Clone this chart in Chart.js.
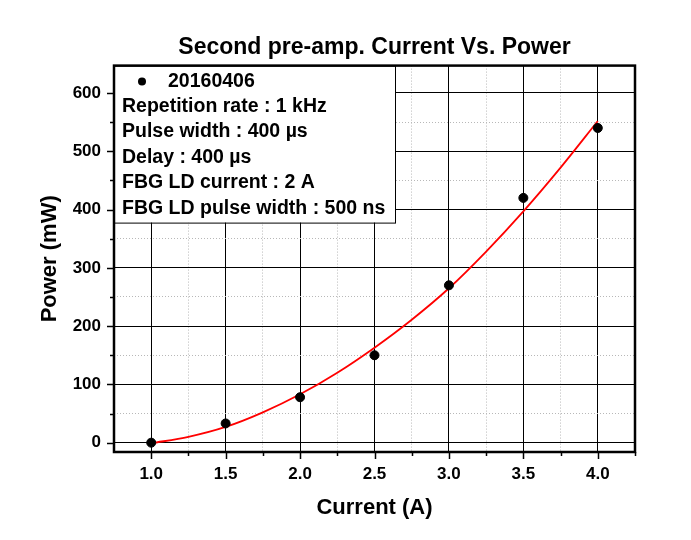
<!DOCTYPE html>
<html>
<head>
<meta charset="utf-8">
<script src="https://cdn.jsdelivr.net/npm/chart.js@4.4.1/dist/chart.umd.min.js"></script>
<style>
  html, body { margin: 0; padding: 0; background: #fff; }
  #wrap { width: 691px; height: 540px; }
</style>
</head>
<body>
<div id="wrap"><canvas id="c" width="691" height="540"></canvas></div>
<script>
// measured points (current A, power mW)
var currents = [1.0, 1.5, 2.0, 2.5, 3.0, 3.5, 4.0];
var powers = [0, 33, 78, 150, 270, 420, 540];

// red fit curve
var fitCurrents = [1.0, 1.25, 1.5, 1.75, 2.0, 2.25, 2.5, 2.75, 3.0, 3.25, 3.5, 3.75, 4.0];
var fitPowers = [-1, 10, 27, 52, 83, 120, 163, 211, 265, 328, 397, 472, 552];

var xTickValues = [1.0, 1.25, 1.5, 1.75, 2.0, 2.25, 2.5, 2.75, 3.0, 3.25, 3.5, 3.75, 4.0, 4.25];
var yTickValues = [0, 50, 100, 150, 200, 250, 300, 350, 400, 450, 500, 550, 600];

var seriesName = '20160406';
var infoLines = [
    'Repetition rate : 1 kHz',
    'Pulse width : 400 \u00b5s',
    'Delay : 400 \u00b5s',
    'FBG LD current : 2 A',
    'FBG LD pulse width : 500 ns'
];

var FONT = "'Liberation Sans', Arial, sans-serif";

function isMajorX(v) { return Math.abs(v * 2 - Math.round(v * 2)) < 1e-6; }
function isMajorY(v) { return Math.abs(v / 100 - Math.round(v / 100)) < 1e-6; }

// frame, outside tick marks and the info box
var decor = {
    id: 'decor',
    beforeDatasetsDraw: function (chart) {
        var ctx = chart.ctx, a = chart.chartArea;
        var x0 = a.left, y0 = a.top, w = 281, h = 157;
        ctx.save();
        ctx.fillStyle = '#fff';
        ctx.fillRect(x0, y0, w, h);
        ctx.strokeStyle = '#000';
        ctx.lineWidth = 1;
        ctx.strokeRect(x0 + 0.5, y0 + 0.5, w, h);
        ctx.fillStyle = '#000';
        ctx.beginPath();
        ctx.arc(x0 + 28, y0 + 16, 4, 0, Math.PI * 2);
        ctx.fill();
        ctx.font = 'bold 19.5px ' + FONT;
        ctx.textBaseline = 'middle';
        ctx.fillText(seriesName, x0 + 54, y0 + 16);
        infoLines.forEach(function (t, i) {
            ctx.fillText(t, x0 + 8, y0 + 41 + i * 25.5);
        });
        ctx.restore();
    },
    afterDraw: function (chart) {
        var ctx = chart.ctx, a = chart.chartArea;
        var xs = chart.scales.x, ys = chart.scales.y;
        ctx.save();
        ctx.strokeStyle = '#000';
        ctx.lineWidth = 1.5;
        xTickValues.forEach(function (v) {
            var px = Math.round(xs.getPixelForValue(v)) + 0.5;
            var len = isMajorX(v) ? 7 : 4;
            ctx.beginPath();
            ctx.moveTo(px, a.bottom);
            ctx.lineTo(px, a.bottom + len);
            ctx.stroke();
        });
        yTickValues.forEach(function (v) {
            var py = Math.round(ys.getPixelForValue(v)) + 0.5;
            var len = isMajorY(v) ? 7 : 4;
            ctx.beginPath();
            ctx.moveTo(a.left, py);
            ctx.lineTo(a.left - len, py);
            ctx.stroke();
        });
        ctx.lineWidth = 2.5;
        ctx.strokeRect(a.left, a.top, a.right - a.left, a.bottom - a.top);
        ctx.restore();
    }
};

var pointData = currents.map(function (x, i) { return { x: x, y: powers[i] }; });
var fitData = fitCurrents.map(function (x, i) { return { x: x, y: fitPowers[i] }; });

new Chart(document.getElementById('c'), {
    type: 'scatter',
    data: {
        datasets: [
            {
                label: seriesName,
                data: pointData,
                backgroundColor: '#000',
                borderColor: '#000',
                pointRadius: 4.5,
                pointHoverRadius: 4.5
            },
            {
                label: 'fit',
                data: fitData,
                showLine: true,
                borderColor: '#ff0000',
                borderWidth: 1.8,
                pointRadius: 0,
                cubicInterpolationMode: 'monotone'
            }
        ]
    },
    plugins: [decor],
    options: {
        responsive: false,
        animation: false,
        layout: { padding: { left: 0, right: 56, top: 0, bottom: 0 } },
        plugins: {
            legend: { display: false },
            tooltip: { enabled: false },
            title: {
                display: true,
                fullSize: false,
                text: 'Second pre-amp. Current Vs. Power',
                color: '#000',
                font: { family: FONT, size: 23, weight: 'bold' },
                padding: { top: 34, bottom: 4 }
            }
        },
        scales: {
            x: {
                type: 'linear',
                min: 0.75,
                max: 4.25,
                afterBuildTicks: function (s) {
                    s.ticks = xTickValues.map(function (v) { return { value: v }; });
                },
                afterFit: function (s) { s.height = 88; },
                grid: {
                    drawTicks: false,
                    lineWidth: 1,
                    color: function (c) { return c.tick && isMajorX(c.tick.value) ? '#000' : '#b8b8b8'; }
                },
                border: {
                    display: false,
                    dash: function (c) { return c.tick && isMajorX(c.tick.value) ? [] : [1, 2]; }
                },
                ticks: {
                    autoSkip: false,
                    maxRotation: 0,
                    padding: 12,
                    color: '#000',
                    font: { family: FONT, size: 17, weight: 'bold' },
                    callback: function (v) { return isMajorX(v) && v < 4.2 ? v.toFixed(1) : ''; }
                },
                title: {
                    display: true,
                    text: 'Current (A)',
                    color: '#000',
                    font: { family: FONT, size: 22, weight: 'bold' },
                    padding: { top: 0, bottom: 19 }
                }
            },
            y: {
                type: 'linear',
                min: -16,
                max: 647,
                afterBuildTicks: function (s) {
                    s.ticks = yTickValues.map(function (v) { return { value: v }; });
                },
                afterFit: function (s) { s.width = 114; },
                grid: {
                    drawTicks: false,
                    lineWidth: 1,
                    color: function (c) { return c.tick && isMajorY(c.tick.value) ? '#000' : '#b8b8b8'; }
                },
                border: {
                    display: false,
                    dash: function (c) { return c.tick && isMajorY(c.tick.value) ? [] : [1, 2]; }
                },
                ticks: {
                    autoSkip: false,
                    padding: 13,
                    color: '#000',
                    font: { family: FONT, size: 17, weight: 'bold' },
                    callback: function (v) { return isMajorY(v) ? String(v) : ''; }
                },
                title: {
                    display: true,
                    text: 'Power (mW)',
                    color: '#000',
                    font: { family: FONT, size: 22, weight: 'bold' },
                    padding: { top: 37, bottom: 0 }
                }
            }
        }
    }
});
</script>
</body>
</html>
